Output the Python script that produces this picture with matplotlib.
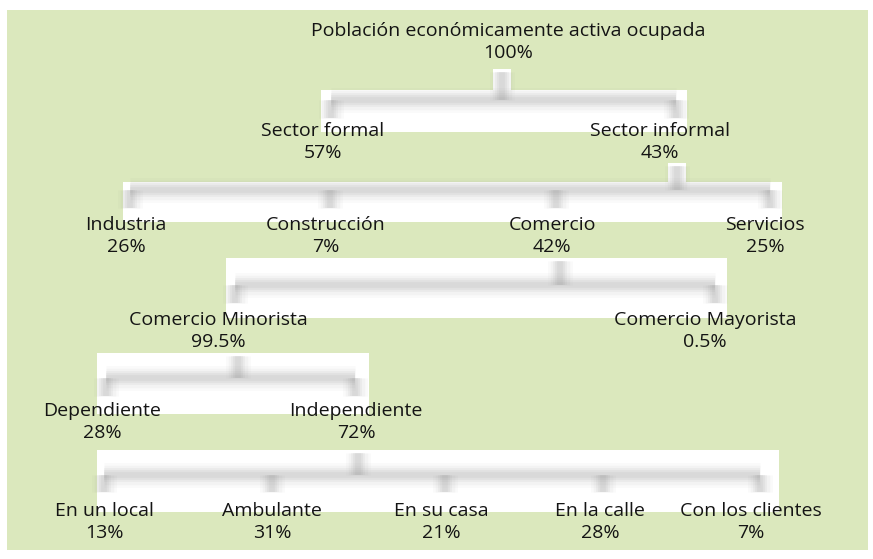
import matplotlib
matplotlib.use("Agg")
import matplotlib.pyplot as plt
from matplotlib.patches import Rectangle

# ---- data ----
root_label = ["Población económicamente activa ocupada"]
root_pct = ["100%"]
sector_labels = ["Sector formal", "Sector informal"]
sector_pcts = ["57%", "43%"]
rama_labels = ["Industria", "Construcción", "Comercio", "Servicios"]
rama_pcts = ["26%", "7%", "42%", "25%"]
comercio_labels = ["Comercio Minorista", "Comercio Mayorista"]
comercio_pcts = ["99.5%", "0.5%"]
minorista_labels = ["Dependiente", "Independiente"]
minorista_pcts = ["28%", "72%"]
indep_labels = ["En un local", "Ambulante", "En su casa", "En la calle", "Con los clientes"]
indep_pcts = ["13%", "31%", "21%", "28%", "7%"]

# ---- layout (pixel space) ----
W, H = 873, 559
BG = "#dbe8bd"
TXT = "#141414"

levels = [
    (root_label, root_pct, [508], 31),
    (sector_labels, sector_pcts, [323, 660], 131),
    (rama_labels, rama_pcts, [126, 326, 552, 765], 225),
    (comercio_labels, comercio_pcts, [218, 705], 320),
    (minorista_labels, minorista_pcts, [102, 356], 411),
    (indep_labels, indep_pcts, [104, 272, 441, 600, 751], 511),
]

# connector geometry: white box (x0, x1, y0, y1), stub x, stub top, bar y, drop xs, drop bottom
connectors = [
    ((321, 687, 90, 132), 502, 69, 100, [331, 676], 118),
    ((123, 782, 182, 222), 677, 163, 190, [130, 330, 556, 770], 208),
    ((226, 727, 258, 318), 560, 258, 285, [235, 715], 303),
    ((97, 369, 353, 414), 238, 353, 378, [106, 355], 396),
    ((97, 779, 450, 512), 358, 450, 475, [104, 272, 445, 603, 760], 492),
]

fig = plt.figure(figsize=(W / 100, H / 100), dpi=100)
ax = fig.add_axes([0, 0, 1, 1])
ax.set_xlim(0, W)
ax.set_ylim(H, 0)
ax.axis("off")

ax.add_patch(Rectangle((7, 10), 861, 540, facecolor=BG, edgecolor="none", zorder=0))


def blur_line(xs, ys):
    for lw, a in [(18, 0.035), (14, 0.05), (10, 0.07), (7, 0.08), (4, 0.08)]:
        ax.plot(xs, ys, color="#808080", lw=lw, alpha=a, solid_capstyle="butt", zorder=2)


for (x0, x1, y0, y1), sx, st, by, drops, db in connectors:
    ax.add_patch(Rectangle((x0, y0), x1 - x0, y1 - y0, facecolor="white", edgecolor="none", zorder=1))
    ax.add_patch(Rectangle((sx - 9, st), 18, y0 - st + 1, facecolor="white", edgecolor="none", zorder=1))
    blur_line([sx, sx], [st + 3, by])
    blur_line([drops[0], drops[-1]], [by, by])
    for dx in drops:
        blur_line([dx, dx], [by, db])

FS = 14
for labels, pcts, xs, y in levels:
    for lab, pct, x in zip(labels, pcts, xs):
        ax.text(x, y, lab, ha="center", va="center", fontsize=FS, color=TXT,
                family=["Open Sans", "DejaVu Sans"], zorder=3)
        ax.text(x, y + 22, pct, ha="center", va="center", fontsize=FS, color=TXT,
                family=["Open Sans", "DejaVu Sans"], zorder=3)

fig.savefig("out.png", dpi=100, facecolor="white")
